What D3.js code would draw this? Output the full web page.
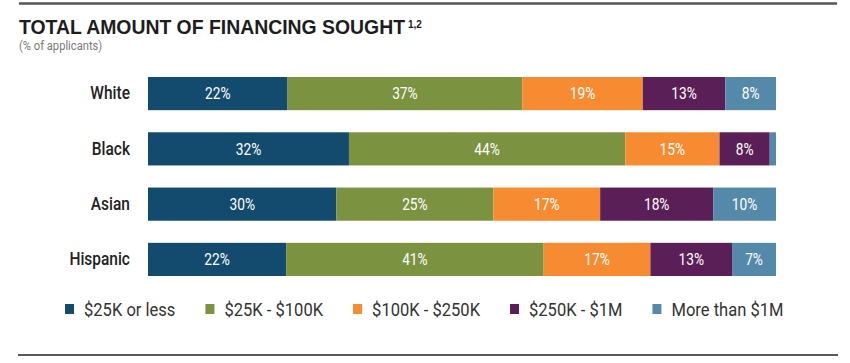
<!DOCTYPE html>
<html lang="en">
<head>
    <meta charset="UTF-8">
    <title>Total amount of financing sought</title>
    <script src="https://cdn.jsdelivr.net/npm/d3@7"></script>
    <style>
        body { margin: 0; background: #fff; }
        svg { display: block; }
    </style>
</head>
<body>

<script>

    var width = 850;
    var height = 363;

    var categories = ["White", "Black", "Asian", "Hispanic"];
    var seriesNames = ["$25K or less", "$25K - $100K", "$100K - $250K", "$250K - $1M", "More than $1M"];
    var colors = ["#134b6f", "#7b9241", "#f68b31", "#5a1f56", "#5489aa"];

    var upTo25K = [22, 32, 30, 22];
    var from25Kto100K = [37, 44, 25, 41];
    var from100Kto250K = [19, 15, 17, 17];
    var from250Kto1M = [13, 8, 18, 13];
    var over1M = [8, 1, 10, 7];

    var seriesValues = [upTo25K, from25Kto100K, from100Kto250K, from250Kto1M, over1M];

    // rows for d3.stack
    var rows = categories.map(function (c, i) {
        var r = {cat: c};
        seriesNames.forEach(function (s, j) { r[s] = seriesValues[j][i]; });
        return r;
    });

    var stacked = d3.stack()
        .keys(seriesNames)
        .offset(d3.stackOffsetExpand)(rows);

    var xScale = d3.scaleLinear()
        .domain([0, 1])
        .range([148, 776]);

    var yScale = d3.scaleBand()
        .domain(categories)
        .range([77, 276])
        .paddingInner(0.4)
        .paddingOuter(0);

    var color = d3.scaleOrdinal().domain(seriesNames).range(colors);

    var squeeze = "scale(0.86,1)";

    var svg = d3.select("body").append("svg")
        .attr("width", width)
        .attr("height", height);

    // rules top and bottom
    svg.append("line")
        .attr("x1", 19).attr("x2", 837).attr("y1", 3.5).attr("y2", 3.5)
        .attr("stroke", "#555").attr("stroke-width", 2.5);
    svg.append("line")
        .attr("x1", 18).attr("x2", 838).attr("y1", 355).attr("y2", 355)
        .attr("stroke", "#5a5a5a").attr("stroke-width", 2);

    // title
    var title = svg.append("text")
        .attr("x", 19)
        .attr("y", 34)
        .attr("font-family", "Liberation Sans, Arial, sans-serif")
        .attr("font-weight", "bold")
        .attr("font-size", 19.4)
        .attr("fill", "#1d1d1d")
        .text("TOTAL AMOUNT OF FINANCING SOUGHT");
    var tw = title.node().getComputedTextLength();
    svg.append("text")
        .attr("x", 19 + tw + 3)
        .attr("y", 28)
        .attr("font-family", "Liberation Sans, Arial, sans-serif")
        .attr("font-weight", "bold")
        .attr("font-size", 10)
        .attr("fill", "#1d1d1d")
        .text("1,2");

    svg.append("text")
        .attr("transform", "translate(19,50) " + squeeze)
        .attr("font-family", "Roboto, sans-serif")
        .attr("font-size", 13)
        .attr("fill", "#7a7a7a")
        .text("(% of applicants)");

    // bars
    var layer = svg.append("g").selectAll("g")
        .data(stacked)
        .join("g")
        .attr("fill", function (d) { return color(d.key); });

    layer.selectAll("rect")
        .data(function (d) { return d; })
        .join("rect")
        .attr("x", function (d) { return xScale(d[0]); })
        .attr("y", function (d) { return yScale(d.data.cat); })
        .attr("width", function (d) { return xScale(d[1]) - xScale(d[0]); })
        .attr("height", yScale.bandwidth());

    layer.selectAll("text")
        .data(function (d) {
            return d.map(function (p) { return {p: p, key: d.key}; });
        })
        .join("text")
        .filter(function (d) { return d.p.data[d.key] >= 5; })
        .attr("transform", function (d) {
            var cx = (xScale(d.p[0]) + xScale(d.p[1])) / 2;
            var cy = yScale(d.p.data.cat) + yScale.bandwidth() / 2;
            return "translate(" + cx + "," + cy + ") " + squeeze;
        })
        .attr("text-anchor", "middle")
        .attr("dy", "0.36em")
        .attr("font-family", "Roboto, sans-serif")
        .attr("font-size", 16)
        .attr("fill", "#fff")
        .text(function (d) { return d.p.data[d.key] + "%"; });

    // category axis
    var yAxis = d3.axisLeft(yScale).tickSize(0).tickPadding(21);
    var yGroup = svg.append("g")
        .attr("transform", "translate(148,0)")
        .call(yAxis);
    yGroup.select(".domain").remove();
    yGroup.selectAll("text")
        .attr("transform", squeeze)
        .attr("font-family", "Roboto, sans-serif")
        .attr("font-weight", 500)
        .attr("font-size", 18)
        .attr("fill", "#222");

    // legend
    var legend = svg.append("g");
    var lx = 65;
    var legSqueeze = 0.92;
    seriesNames.forEach(function (s) {
        legend.append("rect")
            .attr("x", lx).attr("y", 304)
            .attr("width", 9).attr("height", 10)
            .attr("fill", color(s));
        var t = legend.append("text")
            .attr("transform", "translate(" + (lx + 19) + ",316) scale(" + legSqueeze + ",1)")
            .attr("font-family", "Roboto, sans-serif")
            .attr("font-size", 18)
            .attr("fill", "#333")
            .text(s);
        lx += 19 + t.node().getComputedTextLength() * legSqueeze + 30;
    });

</script>
</body>
</html>
